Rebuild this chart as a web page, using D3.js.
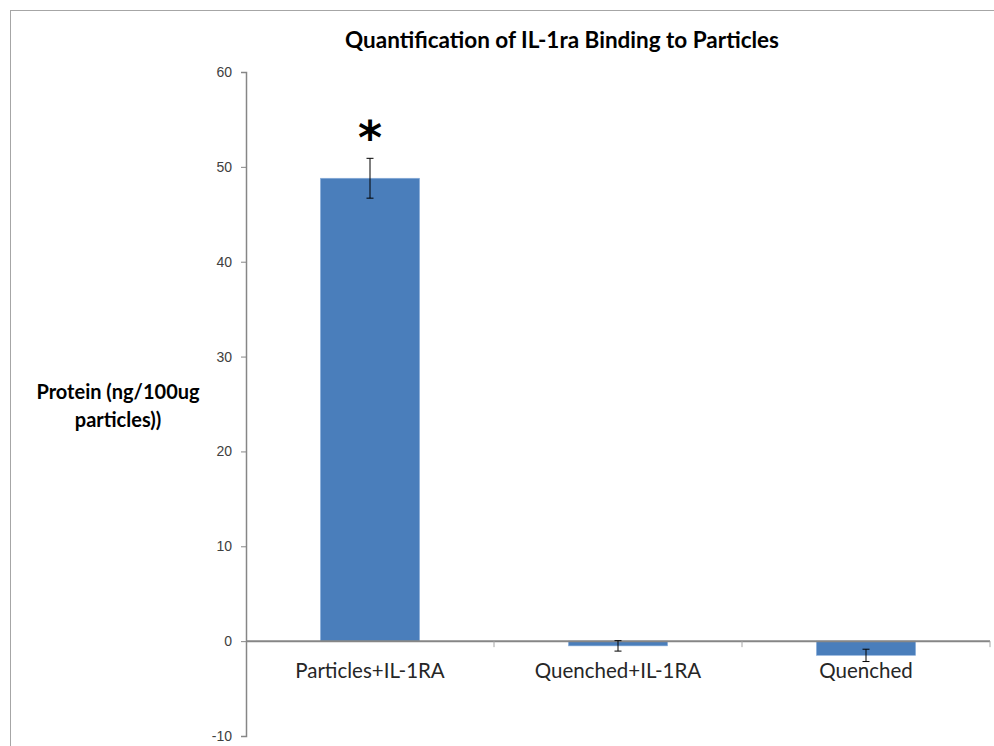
<!DOCTYPE html>
<html>
<head>
<meta charset="utf-8">
<script src="https://cdn.jsdelivr.net/npm/d3@7"></script>
<style>
    body { margin: 0; background: #fff; }
    svg { display: block; font-family: Lato, "Open Sans", sans-serif; }
</style>
</head>
<body>
<div id="chart"></div>
<script>
// values
const categories = ["Particles+IL-1RA", "Quenched+IL-1RA", "Quenched"];
const means = [48.8, -0.5, -1.5];
const errors = [2.1, 0.55, 0.65];
const marks = ["*", "", ""];
const yTicks = [-10, 0, 10, 20, 30, 40, 50, 60];

const canvas = {width: 994, height: 746};
const margin = {top: 72, right: 4, bottom: 10, left: 246};
const width = canvas.width - margin.left - margin.right;
const height = canvas.height - margin.top - margin.bottom;

const svg = d3.select("#chart")
    .append("svg")
    .attr("width", canvas.width)
    .attr("height", canvas.height);

// chart area border
svg.append("rect")
    .attr("x", 10.5)
    .attr("y", 10.5)
    .attr("width", canvas.width)
    .attr("height", canvas.height)
    .attr("fill", "none")
    .attr("stroke", "#a6a6a6")
    .attr("stroke-width", 1);

const g = svg.append("g")
    .attr("transform", "translate(" + margin.left + "," + margin.top + ")");

const data = categories.map((c, i) => ({cat: c, mean: means[i], err: errors[i], mark: marks[i]}));

// scales
const xScale = d3.scaleBand()
    .domain(categories)
    .range([0, width])
    .paddingInner(0.6)
    .paddingOuter(0.3);
const xTickScale = d3.scaleBand().domain(categories).range([0, width]);
const yScale = d3.scaleLinear()
    .domain([-10, 60])
    .range([height, 0]);

// y axis (plain hyphen for negatives, like the original)
const yAxis = g.append("g")
    .attr("class", "y-axis")
    .call(d3.axisLeft(yScale).tickValues(yTicks).tickFormat(d => String(d)).tickSize(5).tickPadding(9));
yAxis.select(".domain").attr("stroke", "#868686").attr("stroke-width", 1.5);
yAxis.selectAll(".tick line").attr("stroke", "#868686");
yAxis.selectAll(".tick text")
    .attr("fill", "#404040")
    .style("font-size", "14px");

// bars
g.selectAll("rect.bar")
    .data(data)
    .enter()
    .append("rect")
    .attr("class", "bar")
    .attr("x", d => xScale(d.cat))
    .attr("y", d => yScale(Math.max(0, d.mean)))
    .attr("width", xScale.bandwidth())
    .attr("height", d => Math.abs(yScale(d.mean) - yScale(0)))
    .attr("fill", "#4a7ebb")
    .attr("stroke", "#8fb1dc")
    .attr("stroke-width", 0.6);

// x axis at zero
const xAxis = g.append("g")
    .attr("class", "x-axis")
    .attr("transform", "translate(0," + yScale(0) + ")");
xAxis.append("line")
    .attr("x1", 0)
    .attr("x2", width)
    .attr("stroke", "#868686")
    .attr("stroke-width", 2);
xAxis.selectAll("line.tick")
    .data(categories)
    .enter()
    .append("line")
    .attr("class", "tick")
    .attr("x1", d => xTickScale(d) + xTickScale.bandwidth())
    .attr("x2", d => xTickScale(d) + xTickScale.bandwidth())
    .attr("y1", 0)
    .attr("y2", 6)
    .attr("stroke", "#a6a6a6")
    .attr("stroke-width", 1);
xAxis.selectAll("text.cat")
    .data(categories)
    .enter()
    .append("text")
    .attr("class", "cat")
    .attr("x", d => xTickScale(d) + xTickScale.bandwidth() / 2)
    .attr("y", 37)
    .attr("text-anchor", "middle")
    .attr("fill", "#262626")
    .style("font-size", "20.5px")
    .text(d => d);

// error bars
const eb = g.selectAll("g.err")
    .data(data)
    .enter()
    .append("g")
    .attr("class", "err")
    .attr("stroke", "#000")
    .attr("stroke-width", 1);
const cx = d => xScale(d.cat) + xScale.bandwidth() / 2;
eb.append("line")
    .attr("x1", cx).attr("x2", cx)
    .attr("y1", d => yScale(d.mean + d.err))
    .attr("y2", d => yScale(d.mean - d.err));
eb.append("line")
    .attr("x1", d => cx(d) - 3.5).attr("x2", d => cx(d) + 3.5)
    .attr("y1", d => yScale(d.mean + d.err)).attr("y2", d => yScale(d.mean + d.err));
eb.append("line")
    .attr("x1", d => cx(d) - 3.5).attr("x2", d => cx(d) + 3.5)
    .attr("y1", d => yScale(d.mean - d.err)).attr("y2", d => yScale(d.mean - d.err));

// significance marks
g.selectAll("text.mark")
    .data(data)
    .enter()
    .append("text")
    .attr("class", "mark")
    .attr("x", cx)
    .attr("y", d => yScale(d.mean + d.err) - 4)
    .attr("text-anchor", "middle")
    .attr("fill", "#000")
    .style("font-size", "46px")
    .style("font-weight", "bold")
    .style("font-family", "'DejaVu Sans', sans-serif")
    .text(d => d.mark);

// title
svg.append("text")
    .attr("x", 562)
    .attr("y", 48)
    .attr("text-anchor", "middle")
    .attr("fill", "#000")
    .style("font-size", "22.5px")
    .style("font-weight", "bold")
    .text("Quantification of IL-1ra Binding to Particles");

// y axis title
const yTitle = svg.append("text")
    .attr("text-anchor", "middle")
    .attr("fill", "#000")
    .style("font-size", "20px")
    .style("font-weight", "bold");
yTitle.append("tspan").attr("x", 118).attr("y", 399).text("Protein (ng/100ug");
yTitle.append("tspan").attr("x", 118).attr("y", 427).text("particles))");
</script>
</body>
</html>
